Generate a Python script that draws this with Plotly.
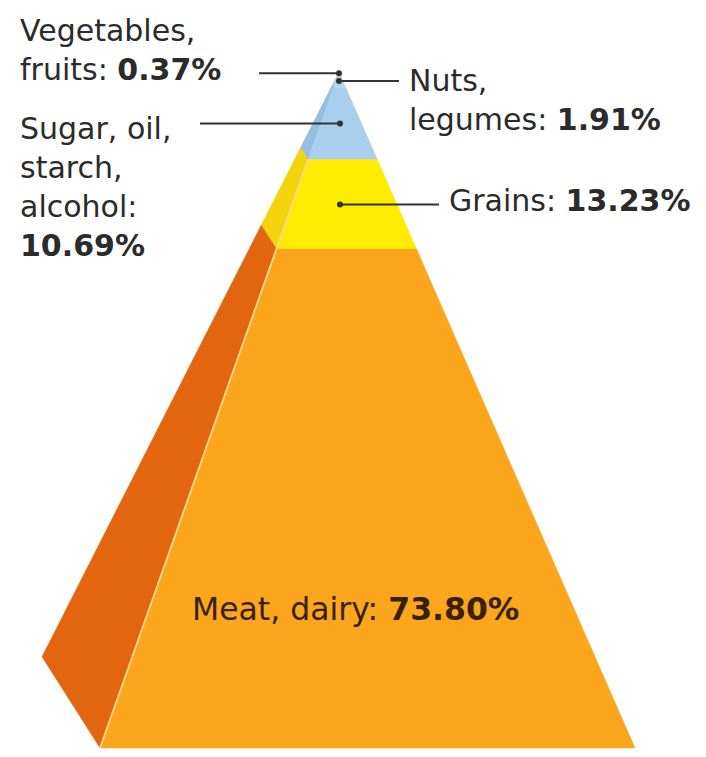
import plotly.graph_objects as go

# Share of the diet, stacked from the tip of the pyramid down to its base
categories = ["Vegetables, fruits", "Nuts, legumes", "Sugar, oil, starch, alcohol", "Grains", "Meat, dairy"]
shares = [0.37, 1.91, 10.69, 13.23, 73.80]
pct_text = ["0.37%", "1.91%", "10.69%", "13.23%", "73.80%"]

front_colors = ["#c4e0f2", "#b4d7ef", "#a9cfec", "#ffec00", "#fca61d"]
side_colors = ["#9cc4e4", "#9cc4e4", "#94bfe0", "#f3d30c", "#e2660f"]

W, H = 706, 757
APEX_X = 339           # x of the pyramid tip
BASE_L, BASE_R = 100, 635  # front face base corners
BACK_X = 42            # far-left corner of the side face
BACK_DEPTH = 86.5      # depth (in % units) reached by the side face's outer edge
TOP_PX, BASE_PX = 72, 748
k = (BASE_PX - TOP_PX) / 100.0


def y_of_px(p):
    return (p - TOP_PX) / k


def left(t):
    return APEX_X + (BASE_L - APEX_X) * t / 100.0


def right(t):
    return APEX_X + (BASE_R - APEX_X) * t / 100.0


def outer(t):
    return APEX_X + (BACK_X - APEX_X) * t / 100.0, BACK_DEPTH * t / 100.0


bounds = [0.0]
for s in shares:
    bounds.append(bounds[-1] + s)
bounds[-1] = 100.0

fig = go.Figure()

for i, cat in enumerate(categories):
    t0, t1 = bounds[i], bounds[i + 1]
    # side face
    ox0, oy0 = outer(t0)
    ox1, oy1 = outer(t1)
    fig.add_trace(go.Scatter(
        x=[ox0, left(t0), left(t1), ox1, ox0],
        y=[oy0, t0, t1, oy1, oy0],
        mode="lines", fill="toself", fillcolor=side_colors[i],
        line=dict(width=0.5, color=side_colors[i]), hoverinfo="skip", showlegend=False))
    # front face
    fig.add_trace(go.Scatter(
        x=[left(t0), right(t0), right(t1), left(t1), left(t0)],
        y=[t0, t0, t1, t1, t0],
        mode="lines", fill="toself", fillcolor=front_colors[i],
        line=dict(width=0.5, color=front_colors[i]), name=cat,
        hovertemplate=cat + ": " + pct_text[i] + "<extra></extra>", showlegend=False))

# light seam between the side face and the front face (grains and meat bands)
fig.add_trace(go.Scatter(x=[left(bounds[3]), left(100)], y=[bounds[3], 100], mode="lines",
                         line=dict(color="#ffd98a", width=1.8), hoverinfo="skip", showlegend=False))

mid = [(bounds[i] + bounds[i + 1]) / 2 for i in range(len(shares))]
LINE = "#333333"
FONT = "DejaVu Sans"
FS = 30
TXT = "#2b2b2b"

# leader lines: (x start, x end) for each labelled band
leaders = {0: (259, APEX_X), 1: (APEX_X, 399), 2: (200, APEX_X + 1), 3: (APEX_X + 1, 439)}
for i, (xa, xb) in leaders.items():
    dot_x = xa if xa >= APEX_X else xb
    fig.add_trace(go.Scatter(x=[xa, xb], y=[mid[i], mid[i]], mode="lines",
                             line=dict(color=LINE, width=2), hoverinfo="skip", showlegend=False))
    fig.add_trace(go.Scatter(x=[dot_x], y=[mid[i]], mode="markers",
                             marker=dict(color=LINE, size=6), hoverinfo="skip", showlegend=False))

ann = []


def label(x, ypx, text, anchor="left", color=TXT, size=FS):
    ann.append(dict(x=x, y=y_of_px(ypx), xanchor=anchor, yanchor="middle", text=text,
                    xref="x", yref="y", showarrow=False, align=anchor,
                    font=dict(family=FONT, size=size, color=color)))


label(18, 50, "Vegetables,<br>fruits: <b>" + pct_text[0] + "</b>")
label(407, 100, "Nuts,<br>legumes: <b>" + pct_text[1] + "</b>")
label(18, 187, "Sugar, oil,<br>starch,<br>alcohol:<br><b>" + pct_text[2] + "</b>")
label(447, 200, "Grains: <b>" + pct_text[3] + "</b>")
label(355, 609, "Meat, dairy: <b>" + pct_text[4] + "</b>", anchor="center", color="#3a2106", size=31.5)

fig.update_layout(
    width=W, height=H, margin=dict(l=0, r=0, t=0, b=0),
    paper_bgcolor="white", plot_bgcolor="white",
    xaxis=dict(range=[0, W], visible=False, fixedrange=True),
    yaxis=dict(range=[y_of_px(H), y_of_px(0)], visible=False, fixedrange=True),
    annotations=ann, showlegend=False,
)

fig.write_html("out.html")
